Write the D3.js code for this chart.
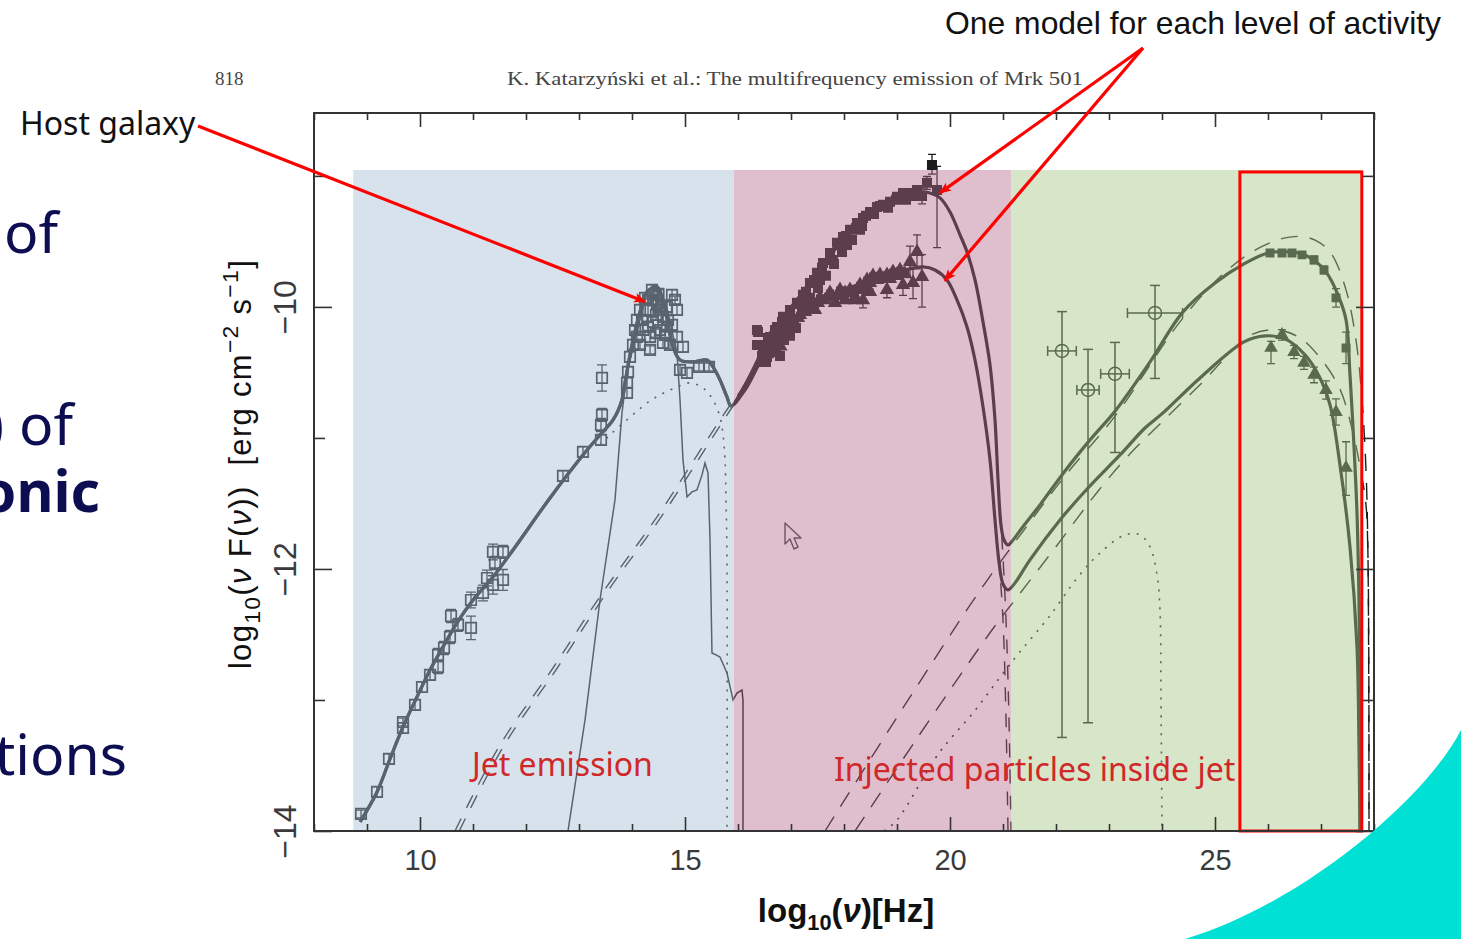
<!DOCTYPE html>
<html><head><meta charset="utf-8">
<script src="https://cdn.jsdelivr.net/npm/d3@7"></script>
<style>
html,body{margin:0;padding:0;background:#fff;}
svg{display:block;}
</style></head><body>
<svg id="chart" width="1461" height="939"></svg>
<script>
// Mrk 501 spectral energy distribution: log10(nu) [Hz] vs log10(nu F(nu)) [erg cm^-2 s^-1]

const xTicksMajor = [10, 15, 20, 25];
const xTicksMinor = [8, 9, 11, 12, 13, 14, 16, 17, 18, 19, 21, 22, 23, 24, 26, 27, 28];
const yTicksMajor = [-14, -12, -10];
const yTicksMinor = [-13, -11, -9];

// emission zones along the frequency axis
const regionEdges = [8.74, 15.92, 21.15, 27.77];
const regionTop = -8.955;
const gammaWindow = [25.47, 27.77, -8.97, -14];

// total model, identical for both activity levels up to the UV dip
const modelShared = [[8.87,-13.93],[9.189,-13.702],[9.434,-13.450],[9.679,-13.206],[9.943,-12.977],[10.189,-12.771],[10.434,-12.595],[10.698,-12.412],[11.0,-12.237],[11.377,-12.061],[11.755,-11.855],[12.453,-11.458],[13.075,-11.130],[13.396,-10.977],[13.642,-10.863],[13.811,-10.710],[13.868,-10.580],[14.0,-10.290],[14.151,-10.038],[14.283,-9.885],[14.472,-9.847],[14.623,-10.023],[14.774,-10.305],[14.906,-10.405],[15.151,-10.420],[15.415,-10.405],[15.528,-10.458],[15.660,-10.557],[15.792,-10.687],[15.868,-10.756]];
// high-activity model beyond the dip
const modelHighTail = [[16.132,-10.595],[16.472,-10.328],[16.849,-10.084],[17.226,-9.885],[17.604,-9.679],[17.981,-9.489],[18.358,-9.336],[18.736,-9.221],[19.113,-9.145],[19.434,-9.122],[19.623,-9.130],[19.811,-9.168],[20.0,-9.275],[20.189,-9.450],[20.321,-9.580],[20.472,-9.794],[20.623,-10.115],[20.755,-10.443],[20.849,-10.863],[20.906,-11.321],[20.962,-11.664],[21.019,-11.779],[21.094,-11.817],[21.189,-11.779],[21.358,-11.687],[21.698,-11.511],[22.170,-11.252],[22.642,-11.015],[23.132,-10.786],[23.774,-10.420],[24.396,-10.038],[25.0,-9.817],[25.547,-9.672],[26.0,-9.588],[26.415,-9.580],[26.642,-9.595],[26.906,-9.656],[27.094,-9.733],[27.321,-9.908],[27.472,-10.099],[27.547,-10.519],[27.623,-11.069],[27.679,-11.573],[27.717,-12.237],[27.736,-13.0],[27.74,-14]];
// low-activity model beyond the dip
const modelLowTail = [[16.132,-10.634],[16.472,-10.382],[16.849,-10.176],[17.226,-10.038],[17.736,-9.916],[18.302,-9.824],[18.868,-9.748],[19.245,-9.710],[19.491,-9.695],[19.717,-9.718],[19.943,-9.794],[20.132,-9.947],[20.321,-10.153],[20.472,-10.405],[20.623,-10.763],[20.755,-11.168],[20.849,-11.626],[20.925,-11.947],[21.0,-12.115],[21.094,-12.160],[21.226,-12.107],[21.509,-11.931],[22.075,-11.626],[22.604,-11.382],[23.208,-11.130],[23.679,-10.924],[24.019,-10.809],[24.717,-10.542],[25.547,-10.267],[25.943,-10.221],[26.321,-10.244],[26.698,-10.366],[26.962,-10.527],[27.170,-10.748],[27.358,-11.206],[27.547,-11.832],[27.679,-12.595],[27.717,-13.359],[27.735,-14]];

// host galaxy template
const hostGalaxy = [[12.792,-14],[13.113,-13.153],[13.396,-12.237],[13.679,-11.473],[13.811,-10.809],[13.906,-10.504],[14.057,-10.252],[14.245,-9.947],[14.434,-9.870],[14.623,-9.947],[14.849,-10.351],[14.906,-10.710],[14.962,-11.168],[15.038,-11.450],[15.132,-11.412],[15.226,-11.397],[15.321,-11.282],[15.377,-11.191],[15.434,-11.267],[15.472,-11.779],[15.509,-12.641],[15.585,-12.656],[15.660,-12.672],[15.792,-12.794],[15.906,-13.0],[15.981,-12.947],[16.075,-12.924],[16.094,-13.0],[16.094,-14]];
// extended jet component (dotted, optical)
const extendedSync = [[13.396,-11.053],[13.623,-10.962],[14.057,-10.809],[14.283,-10.733],[14.528,-10.672],[14.811,-10.618],[15.094,-10.580],[15.340,-10.618],[15.528,-10.710],[15.660,-10.840],[15.717,-10.977],[15.755,-11.168],[15.774,-11.473],[15.792,-11.931],[15.792,-14]];
// extended jet component (dotted, gamma rays)
const extendedIC = [[18.755,-14],[19.0,-13.916],[19.792,-13.405],[20.434,-13.099],[20.906,-12.847],[21.302,-12.641],[21.868,-12.366],[22.415,-12.061],[22.830,-11.878],[23.302,-11.740],[23.585,-11.740],[23.774,-11.832],[23.906,-12.046],[23.962,-12.313],[23.981,-13.0],[24.0,-14]];

// synchrotron emission of the injected particles (dashed)
const syncHigh = [[10.66,-14],[11.509,-13.344],[12.509,-12.756],[13.453,-12.176],[14.472,-11.603],[15.415,-11.015],[15.868,-10.74],[16.132,-10.595],[16.472,-10.328],[16.849,-10.084],[17.226,-9.885],[17.604,-9.679],[17.981,-9.489],[18.358,-9.336],[18.736,-9.221],[19.113,-9.145],[19.434,-9.122],[19.623,-9.130],[19.811,-9.168],[20.0,-9.275],[20.189,-9.450],[20.321,-9.580],[20.472,-9.794],[20.623,-10.115],[20.755,-10.443],[20.849,-10.863],[20.906,-11.321],[20.981,-11.779],[21.057,-12.389],[21.113,-13.153],[21.151,-14]];
const syncLow = [[10.74,-14],[11.59,-13.344],[12.59,-12.756],[13.53,-12.176],[14.55,-11.603],[15.49,-11.015],[15.9,-10.76],[16.132,-10.634],[16.472,-10.382],[16.849,-10.176],[17.226,-10.038],[17.736,-9.916],[18.302,-9.824],[18.868,-9.748],[19.245,-9.710],[19.491,-9.695],[19.717,-9.718],[19.943,-9.794],[20.132,-9.947],[20.321,-10.153],[20.472,-10.405],[20.623,-10.763],[20.755,-11.168],[20.849,-11.626],[20.925,-11.947],[21.0,-12.389],[21.057,-13.153],[21.094,-14]];
// inverse Compton emission of the injected particles (dashed)
const comptonHigh = [[17.642,-14],[19.113,-13.061],[20.547,-12.176],[21.453,-11.672],[22.170,-11.290],[23.132,-10.824],[24.396,-10.084],[25.283,-9.702],[25.868,-9.542],[26.321,-9.473],[26.698,-9.466],[26.981,-9.511],[27.208,-9.603],[27.472,-9.870],[27.660,-10.252],[27.774,-10.710],[27.849,-11.244],[27.887,-11.931],[27.906,-14]];
const comptonLow = [[18.208,-14],[19.358,-13.305],[20.792,-12.466],[21.283,-12.206],[21.981,-11.840],[22.811,-11.397],[23.377,-11.130],[23.962,-10.893],[24.717,-10.595],[25.679,-10.214],[26.189,-10.176],[26.604,-10.237],[26.906,-10.351],[27.340,-10.611],[27.604,-10.962],[27.774,-11.305],[27.849,-11.511],[27.887,-11.931],[27.906,-14]];

// observations: [log nu, log nuFnu, error down, error up]
const radioOptical = [[8.887,-13.870,0.03,0.03],[9.189,-13.702,0.04,0.04],[9.415,-13.450,0.04,0.04],[9.679,-13.214,0.04,0.04],[9.679,-13.168,0.03,0.03],[9.906,-13.038,0.04,0.04],[10.038,-12.901,0.04,0.04],[10.189,-12.809,0.04,0.04],[10.340,-12.656,0.05,0.05],[10.340,-12.748,0.05,0.05],[10.453,-12.603,0.05,0.05],[10.566,-12.519,0.05,0.05],[10.585,-12.359,0.05,0.05],[10.717,-12.427,0.05,0.05],[10.962,-12.237,0.06,0.06],[10.962,-12.450,0.09,0.09],[11.189,-12.183,0.06,0.06],[11.264,-12.069,0.06,0.06],[11.377,-12.122,0.07,0.07],[11.415,-11.954,0.05,0.05],[11.566,-12.084,0.08,0.08],[11.377,-11.870,0.06,0.06],[11.566,-11.870,0.05,0.05],[12.698,-11.290,0.04,0.04],[13.075,-11.107,0.04,0.04],[13.415,-11.015,0.04,0.04],[13.434,-10.824,0.05,0.05],[13.415,-10.901,0.05,0.05],[13.434,-10.542,0.10,0.10]];
const galaxyPeak = [[13.906,-10.656,0.04,0.04],[13.906,-10.580,0.04,0.04],[13.925,-10.496,0.04,0.04],[13.962,-10.382,0.04,0.04],[14.019,-10.290,0.04,0.04],[14.094,-10.229,0.04,0.04],[14.094,-10.099,0.04,0.04],[14.151,-10.023,0.04,0.04],[14.208,-10.176,0.04,0.04],[14.245,-9.931,0.04,0.04],[14.302,-10.023,0.04,0.04],[14.340,-10.229,0.04,0.04],[14.377,-9.870,0.04,0.04],[14.396,-10.115,0.04,0.04],[14.453,-10.061,0.04,0.04],[14.472,-9.969,0.04,0.04],[14.528,-10.176,0.04,0.04],[14.585,-10.076,0.04,0.04],[14.585,-10.275,0.04,0.04],[14.660,-10.000,0.04,0.04],[14.755,-9.908,0.04,0.04],[14.755,-10.137,0.04,0.04],[14.849,-10.023,0.04,0.04],[14.849,-10.229,0.04,0.04],[14.962,-10.305,0.04,0.04],[14.906,-10.481,0.04,0.04],[15.038,-10.504,0.04,0.04],[15.264,-10.458,0.03,0.03],[15.453,-10.458,0.03,0.03],[14.2,-10.10,0.03,0.03],[14.3,-10.15,0.03,0.03],[14.45,-10.20,0.03,0.03],[14.55,-10.00,0.03,0.03],[14.40,-9.95,0.03,0.03],[14.50,-9.90,0.03,0.03],[14.66,-10.15,0.03,0.03],[14.057,-10.176,0.03,0.03],[14.189,-10.099,0.03,0.03],[14.302,-9.947,0.03,0.03],[14.434,-9.908,0.03,0.03],[14.528,-10.023,0.03,0.03],[14.679,-10.099,0.03,0.03],[14.811,-9.947,0.03,0.03],[14.151,-10.290,0.03,0.03],[14.340,-10.328,0.03,0.03],[14.623,-10.214,0.03,0.03],[14.717,-10.290,0.03,0.03]];
const xrayHigh = [[16.358,-10.176,0.02,0.02],[16.415,-10.290,0.02,0.02],[16.472,-10.305,0.02,0.02],[16.547,-10.382,0.02,0.02],[16.604,-10.229,0.02,0.02],[16.736,-10.153,0.02,0.02],[16.792,-10.237,0.02,0.02],[16.849,-10.076,0.02,0.02],[16.981,-10.023,0.02,0.02],[17.038,-10.099,0.02,0.02],[17.113,-9.969,0.02,0.02],[17.226,-9.908,0.02,0.02],[17.302,-9.947,0.02,0.02],[17.358,-9.817,0.02,0.02],[17.491,-9.740,0.02,0.02],[17.547,-9.794,0.02,0.02],[17.604,-9.664,0.02,0.02],[17.736,-9.588,0.02,0.02],[17.792,-9.641,0.02,0.02],[17.868,-9.511,0.02,0.02],[17.981,-9.466,0.02,0.02],[18.057,-9.527,0.02,0.02],[18.113,-9.412,0.02,0.02],[18.245,-9.359,0.02,0.02],[18.302,-9.412,0.02,0.02],[18.358,-9.321,0.02,0.02],[18.491,-9.275,0.02,0.02],[18.623,-9.237,0.02,0.02],[18.736,-9.221,0.02,0.02],[18.868,-9.198,0.02,0.02],[19.0,-9.160,0.02,0.02],[19.113,-9.130,0.02,0.02],[19.245,-9.130,0.02,0.02],[19.377,-9.107,0.02,0.02],[19.472,-9.153,0.06,0.06],[19.566,-9.053,0.05,0.05],[19.660,-8.916,0.07,0.08],[19.755,-9.107,0.44,0.18],[16.45,-10.42,0.02,0.02],[16.55,-10.30,0.02,0.02],
  [16.509,-10.328,0.02,0.02],[16.566,-10.237,0.02,0.02],[16.642,-10.282,0.02,0.02],[16.698,-10.176,0.02,0.02],[16.755,-10.237,0.02,0.02],[16.830,-10.115,0.02,0.02],[16.906,-10.160,0.02,0.02],[16.981,-10.053,0.02,0.02],[17.057,-10.099,0.02,0.02],[17.132,-9.977,0.02,0.02],[17.208,-10.023,0.02,0.02],[17.283,-9.885,0.02,0.02],[17.358,-9.931,0.02,0.02],[17.434,-9.794,0.02,0.02],[17.509,-9.855,0.02,0.02],[17.585,-9.702,0.02,0.02],[17.660,-9.763,0.02,0.02],[17.736,-9.611,0.02,0.02],[17.811,-9.672,0.02,0.02],[17.887,-9.519,0.02,0.02],[17.962,-9.580,0.02,0.02],[18.038,-9.458,0.02,0.02],[18.151,-9.489,0.02,0.02],[18.226,-9.397,0.02,0.02],[18.340,-9.382,0.02,0.02],[18.415,-9.305,0.02,0.02],[18.566,-9.290,0.02,0.02],[18.679,-9.229,0.02,0.02],[18.830,-9.244,0.02,0.02],[18.981,-9.183,0.02,0.02],[19.170,-9.183,0.02,0.02],[19.321,-9.153,0.02,0.02],
  [16.377,-10.191,0.02,0.02],[16.453,-10.374,0.02,0.02],[16.528,-10.420,0.02,0.02],[16.604,-10.344,0.02,0.02],[16.717,-10.298,0.02,0.02],[16.792,-10.374,0.02,0.02],[16.868,-10.252,0.02,0.02],[16.981,-10.221,0.02,0.02],[17.094,-10.160,0.02,0.02],[16.358,-10.290,0.02,0.02]];
const xrayLow = [[16.698,-10.176,0.02,0.02],[16.925,-10.137,0.02,0.02],[17.170,-10.061,0.02,0.02],[17.358,-9.985,0.02,0.02],[17.453,-10.023,0.02,0.02],[17.547,-9.931,0.02,0.02],[17.736,-9.893,0.02,0.02],[17.830,-9.969,0.02,0.02],[17.925,-9.870,0.02,0.02],[18.113,-9.870,0.02,0.02],[18.208,-9.924,0.02,0.02],[18.302,-9.832,0.02,0.02],[18.358,-9.947,0.06,0.06],[18.434,-9.794,0.02,0.02],[18.547,-9.763,0.02,0.02],[18.679,-9.756,0.02,0.02],[18.811,-9.756,0.02,0.02],[18.811,-9.870,0.06,0.06],[18.925,-9.733,0.02,0.02],[19.057,-9.718,0.02,0.02],[19.113,-9.832,0.08,0.08],[19.245,-9.656,0.12,0.12],[19.302,-9.817,0.12,0.12],[19.377,-9.580,0.13,0.13],[19.472,-9.771,0.23,0.17],[16.55,-10.36,0.02,0.02],[16.80,-10.30,0.02,0.02],
  [17.019,-10.115,0.02,0.02],[17.132,-10.084,0.02,0.02],[17.264,-10.038,0.02,0.02],[17.396,-10.008,0.02,0.02],[17.509,-9.969,0.02,0.02],[17.642,-9.947,0.02,0.02],[17.774,-9.924,0.02,0.02],[17.887,-9.916,0.02,0.02],[18.019,-9.893,0.02,0.02],[18.151,-9.893,0.02,0.02],[18.264,-9.870,0.02,0.02],[18.396,-9.855,0.02,0.02],[18.491,-9.817,0.02,0.02],[18.623,-9.794,0.02,0.02],[18.755,-9.786,0.02,0.02],[18.868,-9.786,0.02,0.02],[18.981,-9.763,0.02,0.02],[19.151,-9.748,0.02,0.02],[18.019,-9.947,0.02,0.02],[18.208,-9.947,0.02,0.02],[18.491,-9.885,0.02,0.02]];
// MeV-GeV points: [log nu, log nuFnu, x half-width, error down, error up]
const gammaMeV = [[22.113,-10.336,0.27,2.95,0.30],[22.604,-10.634,0.21,2.54,0.31],[23.113,-10.511,0.27,0.60,0.24],[23.868,-10.046,0.52,0.50,0.21]];
const tevHigh = [[26.038,-9.588,0.02,0.02],[26.264,-9.588,0.02,0.02],[26.453,-9.588,0.02,0.02],[26.642,-9.603,0.02,0.02],[26.868,-9.641,0.03,0.03],[27.057,-9.718,0.03,0.03],[27.283,-9.931,0.07,0.07],[27.472,-10.313,0.12,0.12]];
const tevLow = [[26.057,-10.313,0.12,0.05],[26.264,-10.214,0.04,0.04],[26.491,-10.344,0.05,0.05],[26.679,-10.427,0.05,0.05],[26.868,-10.519,0.06,0.06],[27.094,-10.634,0.07,0.07],[27.283,-10.802,0.10,0.10],[27.472,-11.229,0.21,0.20]];

const regionFill = ['#d8e2ec', '#dfbfcd', '#d7e5c9'];
const regionInk = ['#58636d', '#5c3d4c', '#5a6a4e'];
const outsideInk = '#1c1c1c';

const svg = d3.select('#chart');
const x = d3.scaleLinear().domain([8, 28]).range([314, 1374]);
const y = d3.scaleLinear().domain([-14, -8.52]).range([831, 113]);

const defs = svg.append('defs');
defs.append('marker').attr('id', 'head').attr('viewBox', '0 0 12 10').attr('refX', 11).attr('refY', 5)
  .attr('markerWidth', 13).attr('markerHeight', 10).attr('markerUnits', 'userSpaceOnUse').attr('orient', 'auto')
  .append('path').attr('d', 'M0,0 L12,5 L0,10 L3,5 Z').attr('fill', '#ff0000');

// zone backgrounds
for (let i = 0; i < 3; i++) {
  svg.append('rect').attr('x', x(regionEdges[i])).attr('y', y(regionTop))
    .attr('width', x(regionEdges[i + 1]) - x(regionEdges[i])).attr('height', y(-14) - y(regionTop))
    .attr('fill', regionFill[i]);
  defs.append('clipPath').attr('id', 'clip-r' + i).append('rect')
    .attr('x', x(regionEdges[i])).attr('y', y(regionTop))
    .attr('width', x(regionEdges[i + 1]) - x(regionEdges[i])).attr('height', y(-14) - y(regionTop));
}
const outClip = defs.append('clipPath').attr('id', 'clip-out');
outClip.append('rect').attr('x', x(8)).attr('y', y(-8.52)).attr('width', x(28) - x(8)).attr('height', y(regionTop) - y(-8.52));
outClip.append('rect').attr('x', x(8)).attr('y', y(regionTop)).attr('width', x(regionEdges[0]) - x(8)).attr('height', y(-14) - y(regionTop));
outClip.append('rect').attr('x', x(regionEdges[3])).attr('y', y(regionTop)).attr('width', x(28) - x(regionEdges[3])).attr('height', y(-14) - y(regionTop));

const smooth = d3.line().x(d => x(d[0])).y(d => y(d[1])).curve(d3.curveCatmullRom.alpha(0.5));
const straight = d3.line().x(d => x(d[0])).y(d => y(d[1]));

function errorBars(g, pts, ink, cap) {
  pts.forEach(p => {
    const y0 = y(p[1] - p[2]), y1 = y(p[1] + p[3]);
    g.append('line').attr('x1', x(p[0])).attr('x2', x(p[0])).attr('y1', y0).attr('y2', y1).attr('stroke', ink).attr('stroke-width', 1.3);
    [y0, y1].forEach(v => g.append('line').attr('x1', x(p[0]) - cap).attr('x2', x(p[0]) + cap).attr('y1', v).attr('y2', v).attr('stroke', ink).attr('stroke-width', 1.3));
  });
}

function drawMarks(g, ink) {
  // model components
  g.append('path').datum(hostGalaxy).attr('d', straight).attr('fill', 'none').attr('stroke', ink).attr('stroke-width', 1.5);
  [extendedSync, extendedIC].forEach(c => g.append('path').datum(c).attr('d', smooth).attr('fill', 'none')
    .attr('stroke', ink).attr('stroke-width', 1.6).attr('stroke-dasharray', '2,7'));
  [syncHigh, syncLow].forEach(c => g.append('path').datum(c).attr('d', smooth).attr('fill', 'none')
    .attr('stroke', ink).attr('stroke-width', 1.4).attr('stroke-dasharray', '14,12'));
  [comptonHigh, comptonLow].forEach(c => g.append('path').datum(c).attr('d', smooth).attr('fill', 'none')
    .attr('stroke', ink).attr('stroke-width', 1.4).attr('stroke-dasharray', '17,12'));
  // total models
  [modelShared.concat(modelHighTail), modelShared.concat(modelLowTail)].forEach(c =>
    g.append('path').datum(c).attr('d', smooth).attr('fill', 'none').attr('stroke', ink).attr('stroke-width', 3.2));

  // open squares: radio to optical
  const openSq = d3.symbol().type(d3.symbolSquare).size(110);
  errorBars(g.append('g'), radioOptical.concat(galaxyPeak), ink, 5);
  g.append('g').selectAll('path').data(radioOptical.concat(galaxyPeak)).join('path')
    .attr('d', openSq).attr('transform', d => `translate(${x(d[0])},${y(d[1])})`)
    .attr('fill', 'none').attr('stroke', ink).attr('stroke-width', 1.7);

  // X-ray: filled squares (high state), triangles (low state)
  errorBars(g.append('g'), xrayHigh.concat(xrayLow), ink, 4);
  g.append('g').selectAll('path').data(xrayHigh).join('path')
    .attr('d', d3.symbol().type(d3.symbolSquare).size(100))
    .attr('transform', d => `translate(${x(d[0])},${y(d[1])})`).attr('fill', ink);
  g.append('g').selectAll('path').data(xrayLow).join('path')
    .attr('d', d3.symbol().type(d3.symbolTriangle).size(90))
    .attr('transform', d => `translate(${x(d[0])},${y(d[1])})`).attr('fill', ink);

  // MeV-GeV points: open circles with both error bars
  gammaMeV.forEach(p => {
    const cx = x(p[0]), cy = y(p[1]);
    const xl = x(p[0] - p[2]), xr = x(p[0] + p[2]);
    const yl = y(p[1] - p[3]), yu = y(p[1] + p[4]);
    g.append('line').attr('x1', xl).attr('x2', xr).attr('y1', cy).attr('y2', cy).attr('stroke', ink).attr('stroke-width', 1.5);
    g.append('line').attr('x1', cx).attr('x2', cx).attr('y1', yl).attr('y2', yu).attr('stroke', ink).attr('stroke-width', 1.5);
    [xl, xr].forEach(v => g.append('line').attr('x1', v).attr('x2', v).attr('y1', cy - 5).attr('y2', cy + 5).attr('stroke', ink).attr('stroke-width', 1.5));
    [yl, yu].forEach(v => g.append('line').attr('x1', cx - 5).attr('x2', cx + 5).attr('y1', v).attr('y2', v).attr('stroke', ink).attr('stroke-width', 1.5));
    g.append('circle').attr('cx', cx).attr('cy', cy).attr('r', 6.5).attr('fill', 'none').attr('stroke', ink).attr('stroke-width', 1.5);
  });

  // TeV points
  errorBars(g.append('g'), tevHigh.concat(tevLow), ink, 4);
  g.append('g').selectAll('path').data(tevHigh).join('path')
    .attr('d', d3.symbol().type(d3.symbolSquare).size(80))
    .attr('transform', d => `translate(${x(d[0])},${y(d[1])})`).attr('fill', ink);
  g.append('g').selectAll('path').data(tevLow).join('path')
    .attr('d', d3.symbol().type(d3.symbolTriangle).size(80))
    .attr('transform', d => `translate(${x(d[0])},${y(d[1])})`).attr('fill', ink);
}

for (let i = 0; i < 3; i++) drawMarks(svg.append('g').attr('clip-path', `url(#clip-r${i})`), regionInk[i]);
drawMarks(svg.append('g').attr('clip-path', 'url(#clip-out)'), outsideInk);

// gamma-ray window
svg.append('rect').attr('x', x(gammaWindow[0])).attr('y', y(gammaWindow[2]))
  .attr('width', x(gammaWindow[1]) - x(gammaWindow[0])).attr('height', y(gammaWindow[3]) - y(gammaWindow[2]))
  .attr('fill', 'none').attr('stroke', '#ff0000').attr('stroke-width', 3);

// axes: ticks point inwards on all four sides
const tickFont = "'Liberation Sans', Arial, sans-serif";
function styleAxis(g) {
  g.select('.domain').remove();
  g.selectAll('line').attr('stroke', '#333').attr('stroke-width', 1.6);
  g.selectAll('text').attr('font-family', tickFont).attr('font-size', 29).attr('fill', '#3a3a3a');
}
const frameBottom = y(-14), frameTop = y(-8.52), frameLeft = x(8), frameRight = x(28);
svg.append('g').attr('transform', `translate(0,${frameBottom})`).call(d3.axisBottom(x).tickValues(xTicksMinor).tickSize(-7).tickFormat('')).call(styleAxis);
svg.append('g').attr('transform', `translate(0,${frameBottom})`).call(d3.axisBottom(x).tickValues(xTicksMajor).tickSize(-14).tickPadding(18).tickFormat(d3.format('d'))).call(styleAxis);
svg.append('g').attr('transform', `translate(0,${frameTop})`).call(d3.axisTop(x).tickValues(xTicksMinor).tickSize(-7).tickFormat('')).call(styleAxis);
svg.append('g').attr('transform', `translate(0,${frameTop})`).call(d3.axisTop(x).tickValues(xTicksMajor).tickSize(-14).tickFormat('')).call(styleAxis);
svg.append('g').attr('transform', `translate(${frameLeft},0)`).call(d3.axisLeft(y).tickValues(yTicksMinor).tickSize(-11).tickFormat('')).call(styleAxis);
svg.append('g').attr('transform', `translate(${frameLeft},0)`).call(d3.axisLeft(y).tickValues(yTicksMajor).tickSize(-18).tickFormat(d => '\u2212' + Math.abs(d))).call(styleAxis)
  .selectAll('text').attr('x', 0).attr('y', -18).attr('dy', 0).attr('text-anchor', 'middle').attr('font-size', 32).attr('transform', 'rotate(-90)');
svg.append('g').attr('transform', `translate(${frameRight},0)`).call(d3.axisRight(y).tickValues(yTicksMinor).tickSize(-11).tickFormat('')).call(styleAxis);
svg.append('g').attr('transform', `translate(${frameRight},0)`).call(d3.axisRight(y).tickValues(yTicksMajor).tickSize(-18).tickFormat('')).call(styleAxis);
svg.append('rect').attr('x', frameLeft).attr('y', frameTop).attr('width', frameRight - frameLeft).attr('height', frameBottom - frameTop)
  .attr('fill', 'none').attr('stroke', '#333').attr('stroke-width', 2);

// text with sub/superscripts
function rich(t, parts, size, small, subShift) {
  let cur = 0;
  parts.forEach(p => {
    const off = p.sub ? size * subShift : p.sup ? -size * 0.42 : 0;
    const s = t.append('tspan').attr('dy', off - cur).attr('font-size', (p.sub || p.sup) ? size * small : size).text(p.t);
    if (p.it) s.attr('font-style', 'italic');
    cur = off;
  });
}
const yTitle = svg.append('text').attr('transform', 'translate(251,464) rotate(-90)').attr('text-anchor', 'middle')
  .attr('font-family', tickFont).attr('fill', '#111').attr('letter-spacing', 1.3).attr('style', 'white-space:pre');
rich(yTitle, [{t: 'log'}, {t: '10', sub: 1}, {t: '('}, {t: '\u03bd', it: 1}, {t: ' F('}, {t: '\u03bd', it: 1}, {t: '))  [erg cm'}, {t: '\u22122', sup: 1}, {t: ' s'}, {t: '\u22121', sup: 1}, {t: ']'}], 31, 0.74, 0.3);
const xTitle = svg.append('text').attr('x', 846).attr('y', 922).attr('text-anchor', 'middle')
  .attr('font-family', tickFont).attr('font-weight', 'bold').attr('fill', '#111');
rich(xTitle, [{t: 'log'}, {t: '10', sub: 1}, {t: '('}, {t: '\u03bd', it: 1}, {t: ')[Hz]'}], 33, 0.66, 0.24);

// page header of the paper
svg.append('text').attr('x', 215).attr('y', 85).attr('font-family', "'Liberation Serif', serif").attr('font-size', 19).attr('fill', '#444').text('818');
svg.append('text').attr('x', 507).attr('y', 85).attr('font-family', "'Liberation Serif', serif").attr('font-size', 19).attr('fill', '#444')
  .attr('textLength', 576).attr('lengthAdjust', 'spacingAndGlyphs').text('K. Katarzy\u0144ski et al.: The multifrequency emission of Mrk 501');

// zone labels
const labelFont = "'Noto Sans', 'Open Sans', sans-serif";
svg.append('text').attr('x', x(10.98)).attr('y', y(-13.58)).attr('font-family', labelFont).attr('font-size', 32).attr('fill', '#d02828').text('Jet emission');
svg.append('text').attr('x', x(17.81)).attr('y', y(-13.62)).attr('font-family', labelFont).attr('font-size', 32).attr('fill', '#d02828').text('Injected particles inside jet');

// call-outs
svg.append('text').attr('x', 20).attr('y', 135).attr('font-family', labelFont).attr('font-size', 32).attr('fill', '#111').text('Host galaxy');
svg.append('line').attr('x1', 198).attr('y1', 126).attr('x2', x(14.245)).attr('y2', y(-9.96))
  .attr('stroke', '#ff0000').attr('stroke-width', 3.2).attr('marker-end', 'url(#head)');
svg.append('text').attr('x', 945).attr('y', 34).attr('font-family', tickFont).attr('font-size', 32).attr('fill', '#111')
  .attr('textLength', 496).attr('lengthAdjust', 'spacingAndGlyphs').text('One model for each level of activity');
svg.append('line').attr('x1', 1143).attr('y1', 48).attr('x2', x(19.81)).attr('y2', y(-9.13))
  .attr('stroke', '#ff0000').attr('stroke-width', 3.2).attr('marker-end', 'url(#head)');
svg.append('line').attr('x1', 1143).attr('y1', 48).attr('x2', x(19.9)).attr('y2', y(-9.80))
  .attr('stroke', '#ff0000').attr('stroke-width', 3.2).attr('marker-end', 'url(#head)');

// mouse pointer left on the slide
svg.append('path').attr('transform', 'translate(785,523)')
  .attr('d', 'M0,0 L0,21 L5,16 L9,26 L13,24 L9,15 L16,15 Z')
  .attr('fill', 'none').attr('stroke', '#6b5563').attr('stroke-width', 1.4).attr('stroke-linejoin', 'round');

// slide body text running off the left edge
const slideFont = "'Noto Sans', 'Open Sans', sans-serif";
const slideInk = '#0d0d52';
svg.append('text').attr('x', 58).attr('y', 253).attr('text-anchor', 'end').attr('font-family', slideFont).attr('font-size', 57).attr('fill', slideInk).text('of');
svg.append('text').attr('x', 73).attr('y', 445).attr('text-anchor', 'end').attr('font-family', slideFont).attr('font-size', 57).attr('fill', slideInk).attr('style', 'white-space:pre').text(') of');
svg.append('text').attr('x', 100).attr('y', 512).attr('text-anchor', 'end').attr('font-family', slideFont).attr('font-weight', 'bold').attr('font-size', 57).attr('fill', slideInk).text('onic');
svg.append('text').attr('x', 127).attr('y', 775).attr('text-anchor', 'end').attr('font-family', slideFont).attr('font-size', 57).attr('fill', slideInk).text('tions');

// decorative corner swoosh
svg.append('path').attr('d', 'M1461,730 C1425,800 1300,905 1185,939 L1461,939 Z').attr('fill', '#00e0d4');
</script>
</body></html>
